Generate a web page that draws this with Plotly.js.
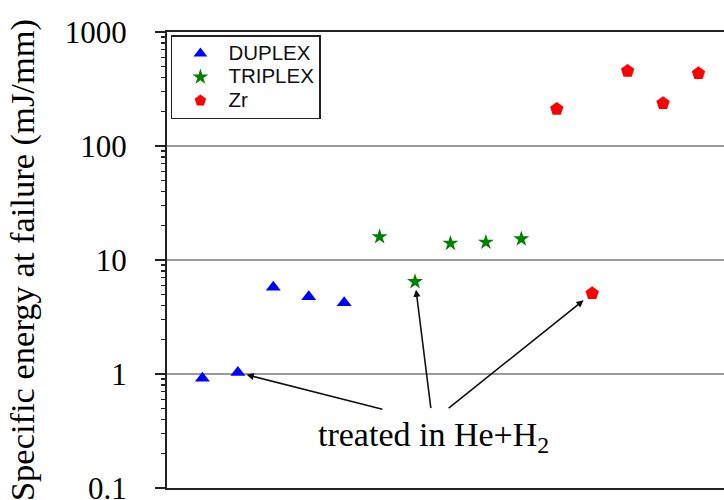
<!DOCTYPE html>
<html>
<head>
<meta charset="utf-8">
<script src="https://cdn.plot.ly/plotly-3.0.1.min.js"></script>
<style>html,body{margin:0;padding:0;background:#fff;overflow:hidden}</style>
</head>
<body>
<div id="chart" style="width:724px;height:500px"></div>
<script>
// ---- data ----
const seriesNames = ["DUPLEX", "TRIPLEX", "Zr"];
const duplexX = [1, 2, 3, 4, 5];
const duplexY = [0.92, 1.03, 5.76, 4.77, 4.22];
const triplexX = [6, 7, 8, 9, 10];
const triplexY = [16.0, 6.45, 14.0, 14.3, 15.3];
const zrX = [11, 12, 13, 14, 15];
const zrY = [211, 5.1, 455, 237, 434];
// index (within each series) of the sample treated in He+H2
const treatedIdx = [1, 1, 1];
const yTickVals = [0.1, 1, 10, 100, 1000];
const yTickText = ["0.1", "1", "10", "100", "1000"];
const yTitle = "Specific energy at failure (mJ/mm)";
const noteText = "treated in He+H<sub>2</sub>";

const serif = "'Liberation Serif', 'Times New Roman', serif";
const sans = "'Liberation Sans', Arial, sans-serif";

// minor ticks 2..9 in every decade (axis decoration)
const minorVals = [];
for (let k = -1; k < 3; k++) for (let d = 2; d <= 9; d++) minorVals.push(d * Math.pow(10, k));

const legendName = n => '<span style="font-size:20.5px">' + n + '</span>';

const traces = [
  {x: duplexX, y: duplexY, name: legendName(seriesNames[0]), type: "scatter", mode: "markers",
   marker: {symbol: "triangle-up", color: "#0000ff", size: 13}},
  {x: triplexX, y: triplexY, name: legendName(seriesNames[1]), type: "scatter", mode: "markers",
   marker: {symbol: "star", color: "#008000", size: 12}},
  {x: zrX, y: zrY, name: legendName(seriesNames[2]), type: "scatter", mode: "markers",
   marker: {symbol: "pentagon", color: "#ff0000", size: 14}},
  // invisible copy of the first series that only carries the minor-tick axis
  {x: duplexX, y: duplexY, yaxis: "y2", type: "scatter", mode: "markers", marker: {opacity: 0},
   showlegend: false, hoverinfo: "skip"}
];

// arrow tails as pixel offsets from the marker they point to
const arrowStyle = [
  {ax: 146, ay: 37, standoff: 9},
  {ax: 16, ay: 128, standoff: 8},
  {ax: -145, ay: 116, standoff: 11}
];
const seriesXY = [[duplexX, duplexY], [triplexX, triplexY], [zrX, zrY]];
const annotations = seriesXY.map((s, k) => ({
  x: s[0][treatedIdx[k]], y: Math.log10(s[1][treatedIdx[k]]), xref: "x", yref: "y",
  text: "", showarrow: true, arrowhead: 2, arrowsize: 0.9, arrowwidth: 1.6,
  arrowcolor: "#111", ax: arrowStyle[k].ax, ay: arrowStyle[k].ay,
  standoff: arrowStyle[k].standoff
}));
annotations.push({
  x: 7.52, y: -0.553, xref: "x", yref: "y", text: noteText, showarrow: false,
  font: {family: serif, size: 34, color: "#000"}, xanchor: "center", yanchor: "middle"
});

const layout = {
  width: 724, height: 500,
  margin: {l: 167, r: 0, t: 32, b: 12, pad: 0},
  paper_bgcolor: "#fff", plot_bgcolor: "#fff",
  showlegend: true,
  legend: {x: 0.007, y: 0.993, xanchor: "left", yanchor: "top",
           bordercolor: "#222", borderwidth: 1.5, bgcolor: "#fff",
           font: {family: sans, size: 15.8, color: "#111"}, itemwidth: 46,
           itemsizing: "constant", tracegroupgap: 0},
  xaxis: {range: [0, 15.72], showgrid: false, zeroline: false, showticklabels: false,
          ticks: "", showline: true, linecolor: "#222", linewidth: 2, mirror: true},
  yaxis: {type: "log", range: [-1, 3], tickmode: "array", tickvals: yTickVals, ticktext: yTickText,
          ticks: "outside", ticklen: 10, tickwidth: 1.6, tickcolor: "#222",
          ticklabelstandoff: 22, ticklabeloverflow: "allow",
          tickfont: {family: serif, size: 31, color: "#000"},
          showgrid: true, gridcolor: "#9a9a9a", gridwidth: 1.5, zeroline: false,
          showline: true, linecolor: "#222", linewidth: 2,
          title: {text: yTitle, font: {family: serif, size: 34.5, color: "#000"}, standoff: 20}},
  yaxis2: {type: "log", range: [-1, 3], overlaying: "y", side: "left", anchor: "x", tickmode: "array",
           tickvals: minorVals, ticks: "outside", ticklen: 5, tickwidth: 1.5, tickcolor: "#222",
           showticklabels: false, showgrid: false, zeroline: false, showline: false},
  annotations: annotations
};

Plotly.newPlot("chart", traces, layout, {displayModeBar: false, staticPlot: true});
</script>
</body>
</html>
